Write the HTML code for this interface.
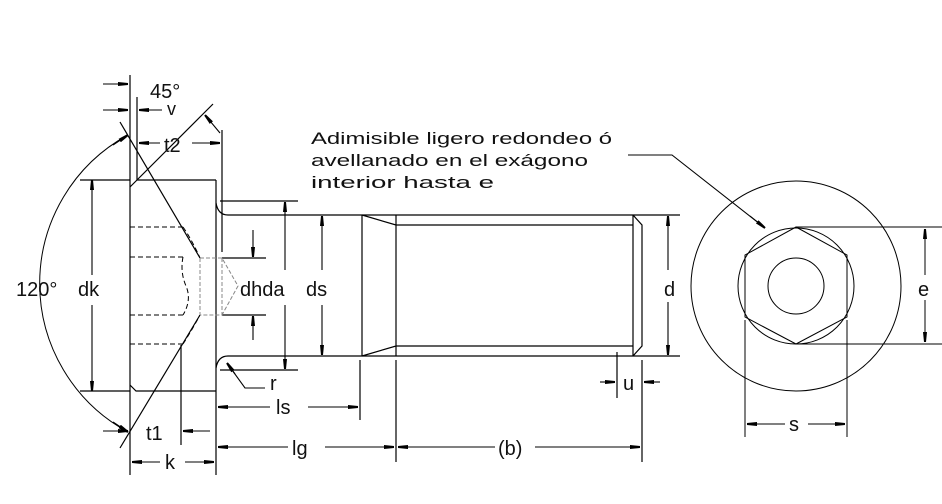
<!DOCTYPE html>
<html><head><style>
html,body{margin:0;padding:0;background:#fff;}
svg{display:block}
text{font-family:"Liberation Sans",sans-serif;fill:#111;}
</style></head><body>
<svg width="942" height="504" viewBox="0 0 942 504" xmlns="http://www.w3.org/2000/svg">
<defs>
<marker id="a" viewBox="0 0 10 6" refX="10" refY="3" markerWidth="10" markerHeight="6" orient="auto" markerUnits="userSpaceOnUse"><path d="M0,1 L10,2 L10,4 L0,5 Z" fill="#000"/></marker>
</defs>
<g stroke="#000" stroke-width="1.2" fill="none">
<line x1="130" y1="75" x2="130" y2="475"/>
<line x1="216" y1="180" x2="216" y2="475"/>
<path d="M137,180 L216,180 M130,187 L137,180 M130,385 L136,391 L216,391"/>
<line x1="80" y1="180" x2="130" y2="180"/>
<line x1="80" y1="391" x2="130" y2="391"/>
<path d="M216,203 Q218,215 228,215 L680,215 M216,368 Q218,356 228,356 L680,356"/>
<path d="M362,215 L362,356 M362,215 L396,225 L633,225 M362,356 L396,346 L633,346 M396,215 L396,356 M633,215 L633,356 M633,215 L642,225 L642,346 L633,356"/>
<line x1="222" y1="130" x2="222" y2="252"/>
<line x1="137" y1="97" x2="137" y2="180"/>
<line x1="220" y1="201" x2="298" y2="201"/>
<line x1="220" y1="370" x2="298" y2="370"/>
<line x1="222" y1="258" x2="266" y2="258"/>
<line x1="222" y1="315" x2="266" y2="315"/>
<line x1="360" y1="360" x2="360" y2="420"/>
<line x1="396" y1="360" x2="396" y2="462"/>
<line x1="642" y1="360" x2="642" y2="462"/>
<line x1="617" y1="352" x2="617" y2="398"/>
<line x1="181" y1="345" x2="181" y2="445"/>
<line x1="120" y1="122" x2="200" y2="258"/>
<line x1="200" y1="315" x2="120" y2="448"/>
<line x1="137" y1="180" x2="213" y2="104"/>
<path d="M128,135 A169,169 0 0 0 128,432" stroke-width="1"/>
</g>
<g stroke="#000" stroke-width="1.1" fill="none">
<line x1="103" y1="84" x2="128" y2="84" marker-end="url(#a)"/>
<line x1="103" y1="110" x2="128" y2="110" marker-end="url(#a)"/>
<line x1="162" y1="110" x2="139" y2="110" marker-end="url(#a)"/>
<line x1="160" y1="143" x2="139" y2="143" marker-end="url(#a)"/>
<line x1="192" y1="143" x2="220" y2="143" marker-end="url(#a)"/>
<line x1="220" y1="133" x2="205" y2="115" marker-end="url(#a)"/>
<path d="M113,145 L128,135" marker-end="url(#a)"/>
<path d="M113,422 L128,432" marker-end="url(#a)"/>
<line x1="103" y1="431" x2="128" y2="431" marker-end="url(#a)"/>
<line x1="210" y1="431" x2="183" y2="431" marker-end="url(#a)"/>
<line x1="92" y1="190" x2="92" y2="180" marker-end="url(#a)"/>
<line x1="92" y1="380" x2="92" y2="391" marker-end="url(#a)"/>
<line x1="92" y1="185" x2="92" y2="275"/>
<line x1="92" y1="305" x2="92" y2="390"/>
<line x1="253" y1="230" x2="253" y2="257" marker-end="url(#a)"/>
<line x1="253" y1="340" x2="253" y2="316" marker-end="url(#a)"/>
<line x1="285" y1="270" x2="285" y2="202" marker-end="url(#a)"/>
<line x1="285" y1="305" x2="285" y2="369" marker-end="url(#a)"/>
<line x1="322" y1="270" x2="322" y2="216" marker-end="url(#a)"/>
<line x1="322" y1="305" x2="322" y2="355" marker-end="url(#a)"/>
<path d="M265,388 L245,388 L227,363" />
<line x1="235" y1="374" x2="227" y2="363" marker-end="url(#a)"/>
<line x1="270" y1="407" x2="218" y2="407" marker-end="url(#a)"/>
<line x1="308" y1="407" x2="358" y2="407" marker-end="url(#a)"/>
<line x1="288" y1="447" x2="218" y2="447" marker-end="url(#a)"/>
<line x1="325" y1="447" x2="394" y2="447" marker-end="url(#a)"/>
<line x1="495" y1="447" x2="398" y2="447" marker-end="url(#a)"/>
<line x1="535" y1="447" x2="640" y2="447" marker-end="url(#a)"/>
<line x1="160" y1="462" x2="132" y2="462" marker-end="url(#a)"/>
<line x1="185" y1="462" x2="214" y2="462" marker-end="url(#a)"/>
<line x1="600" y1="382" x2="615" y2="382" marker-end="url(#a)"/>
<line x1="660" y1="382" x2="644" y2="382" marker-end="url(#a)"/>
<line x1="668" y1="270" x2="668" y2="216" marker-end="url(#a)"/>
<line x1="668" y1="302" x2="668" y2="355" marker-end="url(#a)"/>
<path d="M628,155 L672,155 L765,228" />
<line x1="750" y1="216" x2="765" y2="228" marker-end="url(#a)"/>
</g>
<g stroke="#000" stroke-width="1" fill="none" stroke-dasharray="5,3">
<path d="M130,227 L183,227 M130,257 L183,257 M130,315 L183,315 M130,344 L183,344"/>
<path d="M183,227 Q192,240 200,258 M183,257 Q180,272 186,286 Q192,300 183,315 M183,344 Q192,330 200,315"/>
</g>
<g stroke="#888" stroke-width="1" fill="none" stroke-dasharray="4,2">
<path d="M200,258 L200,315 M200,258 L222,258 L238,286 L222,315 L200,315 M222,258 L222,315"/>
</g>
<g stroke="#000" stroke-width="1" fill="none">
<circle cx="796" cy="286" r="105"/>
<circle cx="796" cy="286" r="58"/>
<circle cx="796" cy="286" r="28"/>
<polygon points="796,227 847,255 847,317 796,344 745,317 745,255"/>
<line x1="796" y1="227" x2="942" y2="227"/>
<line x1="796" y1="344" x2="942" y2="344"/>
<line x1="745" y1="320" x2="745" y2="437"/>
<line x1="847" y1="320" x2="847" y2="437"/>
<line x1="925" y1="275" x2="925" y2="229" marker-end="url(#a)"/>
<line x1="925" y1="300" x2="925" y2="342" marker-end="url(#a)"/>
<line x1="785" y1="424" x2="747" y2="424" marker-end="url(#a)"/>
<line x1="808" y1="424" x2="845" y2="424" marker-end="url(#a)"/>
</g>
<g font-size="20">
<text x="150" y="98">45°</text>
<text x="167" y="115" font-size="18">v</text>
<text x="164" y="152">t2</text>
<text x="16" y="296">120°</text>
<text x="78" y="296">dk</text>
<text x="240" y="296">dhda</text>
<text x="306" y="296">ds</text>
<text x="664" y="296">d</text>
<text x="918" y="296">e</text>
<text x="270" y="390">r</text>
<text x="276" y="414">ls</text>
<text x="292" y="455">lg</text>
<text x="498" y="455">(b)</text>
<text x="623" y="390">u</text>
<text x="146" y="440">t1</text>
<text x="165" y="469">k</text>
<text x="789" y="431">s</text>
</g>
<g font-size="17">
<text x="311" y="144" textLength="301" lengthAdjust="spacingAndGlyphs">Adimisible ligero redondeo ó</text>
<text x="311" y="166" textLength="277" lengthAdjust="spacingAndGlyphs">avellanado en el exágono</text>
<text x="311" y="188" textLength="183" lengthAdjust="spacingAndGlyphs">interior hasta e</text>
</g>
</svg>
</body></html>
